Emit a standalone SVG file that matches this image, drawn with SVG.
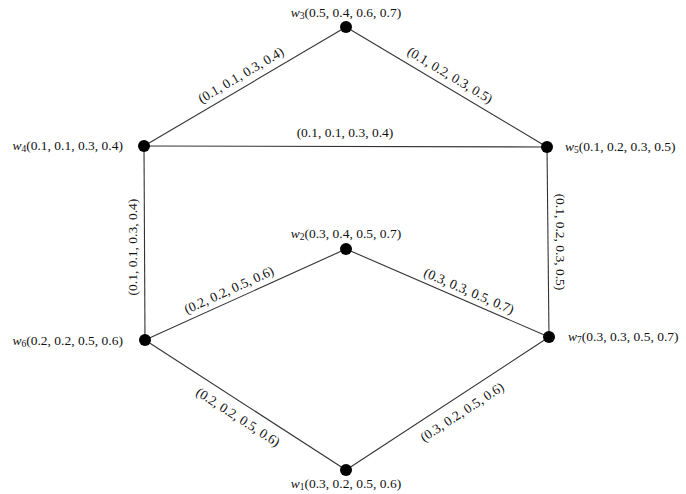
<svg xmlns="http://www.w3.org/2000/svg" width="686" height="494" viewBox="0 0 686 494">
<style>
text{font-family:"Liberation Serif","DejaVu Serif",serif;font-size:13.5px;fill:#111}
.e{stroke:#333;stroke-width:1.1;fill:none}
.d{fill:#000}
.w{font-style:italic}
.s{font-size:9.5px}
.el{text-anchor:middle}
</style>
<rect width="686" height="494" fill="#fff"/>
<g id="edges">
<line class="e" x1="144" y1="146" x2="346" y2="27"/>
<line class="e" x1="346" y1="27" x2="547" y2="147"/>
<line class="e" x1="144" y1="146" x2="547" y2="147"/>
<line class="e" x1="144" y1="146" x2="145" y2="340"/>
<line class="e" x1="547" y1="147" x2="549" y2="337"/>
<line class="e" x1="145" y1="340" x2="346" y2="249"/>
<line class="e" x1="346" y1="249" x2="549" y2="337"/>
<line class="e" x1="145" y1="340" x2="346" y2="470"/>
<line class="e" x1="346" y1="470" x2="549" y2="337"/>
<g class="el">
<text transform="translate(241,75) rotate(-30.5)" y="4.5">(0.1, 0.1, 0.3, 0.4)</text>
<text transform="translate(450,75) rotate(31)" y="4.5">(0.1, 0.2, 0.3, 0.5)</text>
<text transform="translate(345,132)" y="4.5">(0.1, 0.1, 0.3, 0.4)</text>
<text transform="translate(132,247) rotate(-90)" y="4.5">(0.1, 0.1, 0.3, 0.4)</text>
<text transform="translate(560,242) rotate(90)" y="4.5">(0.1, 0.2, 0.3, 0.5)</text>
<text transform="translate(229,290) rotate(-24.4)" y="4.5">(0.2, 0.2, 0.5, 0.6)</text>
<text transform="translate(469,291) rotate(23.4)" y="4.5">(0.3, 0.3, 0.5, 0.7)</text>
<text transform="translate(238,417) rotate(32.9)" y="4.5">(0.2, 0.2, 0.5, 0.6)</text>
<text transform="translate(462,412) rotate(-33.2)" y="4.5">(0.3, 0.2, 0.5, 0.6)</text>
</g>
</g>
<g id="w3"><circle class="d" cx="346" cy="27" r="6"/><text x="346" y="17" text-anchor="middle"><tspan class="w">w</tspan><tspan class="s" dy="2">3</tspan><tspan dy="-2">(0.5, 0.4, 0.6, 0.7)</tspan></text></g>
<g id="w4"><circle class="d" cx="144" cy="146" r="6"/><text x="123" y="150" text-anchor="end"><tspan class="w">w</tspan><tspan class="s" dy="2">4</tspan><tspan dy="-2">(0.1, 0.1, 0.3, 0.4)</tspan></text></g>
<g id="w5"><circle class="d" cx="547" cy="147" r="6"/><text x="565" y="151"><tspan class="w">w</tspan><tspan class="s" dy="2">5</tspan><tspan dy="-2">(0.1, 0.2, 0.3, 0.5)</tspan></text></g>
<g id="w2"><circle class="d" cx="346" cy="249" r="6"/><text x="346" y="238" text-anchor="middle"><tspan class="w">w</tspan><tspan class="s" dy="2">2</tspan><tspan dy="-2">(0.3, 0.4, 0.5, 0.7)</tspan></text></g>
<g id="w6"><circle class="d" cx="145" cy="340" r="6"/><text x="123" y="345" text-anchor="end"><tspan class="w">w</tspan><tspan class="s" dy="2">6</tspan><tspan dy="-2">(0.2, 0.2, 0.5, 0.6)</tspan></text></g>
<g id="w7"><circle class="d" cx="549" cy="337" r="6"/><text x="568" y="341"><tspan class="w">w</tspan><tspan class="s" dy="2">7</tspan><tspan dy="-2">(0.3, 0.3, 0.5, 0.7)</tspan></text></g>
<g id="w1"><circle class="d" cx="346" cy="470" r="6"/><text x="346" y="488" text-anchor="middle"><tspan class="w">w</tspan><tspan class="s" dy="2">1</tspan><tspan dy="-2">(0.3, 0.2, 0.5, 0.6)</tspan></text></g>
</svg>
